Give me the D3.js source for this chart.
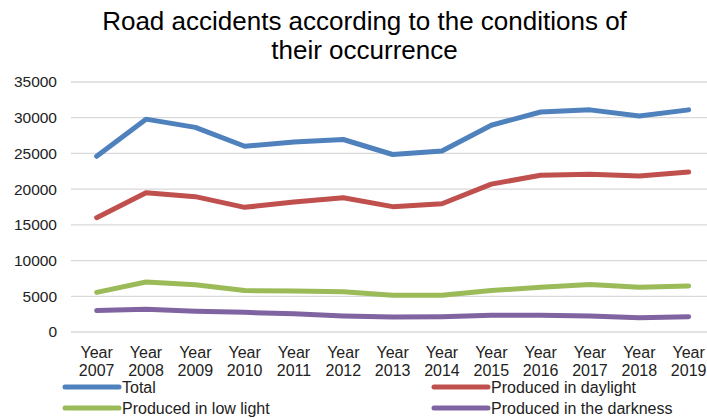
<!DOCTYPE html>
<html>
<head>
<meta charset="utf-8">
<script src="https://cdn.jsdelivr.net/npm/d3@7"></script>
<style>
  body { margin: 0; background: #fff; }
  text { font-family: "Liberation Sans", Arial, sans-serif; }
</style>
</head>
<body>
<script>
var years = ['2007', '2008', '2009', '2010', '2011', '2012', '2013', '2014', '2015', '2016', '2017', '2018', '2019'];
var total = [24600, 29800, 28650, 26000, 26600, 26950, 24850, 25350, 28950, 30800, 31100, 30250, 31100];
var daylight = [16000, 19500, 18950, 17450, 18200, 18800, 17550, 17950, 20700, 21950, 22100, 21850, 22400];
var lowLight = [5550, 7000, 6600, 5800, 5750, 5650, 5150, 5150, 5800, 6250, 6650, 6250, 6450];
var darkness = [3000, 3200, 2900, 2750, 2550, 2250, 2100, 2150, 2350, 2350, 2250, 2000, 2150];
var yTicks = [0, 5000, 10000, 15000, 20000, 25000, 30000, 35000];
var seriesNames = ['Total', 'Produced in daylight', 'Produced in low light', 'Produced in the darkness'];

var colors = ['#4F81BD', '#C0504D', '#9BBB59', '#8064A2'];
var width = 707, height = 418;

var svg = d3.select('body').append('svg')
    .attr('width', width)
    .attr('height', height);

svg.append('text')
    .attr('x', 364.5).attr('y', 30)
    .attr('text-anchor', 'middle')
    .attr('font-size', 26)
    .attr('fill', '#000')
    .text('Road accidents according to the conditions of');
svg.append('text')
    .attr('x', 364.5).attr('y', 59)
    .attr('text-anchor', 'middle')
    .attr('font-size', 26)
    .attr('fill', '#000')
    .text('their occurrence');

var x = d3.scaleBand()
    .domain(years)
    .range([72, 72 + 13 * 49.33]);

var y = d3.scaleLinear()
    .domain([0, 35000])
    .range([332, 82]);

// gridlines
svg.append('g')
    .selectAll('line')
    .data(yTicks)
    .enter()
        .append('line')
        .attr('x1', 71).attr('x2', width)
        .attr('y1', (d) => y(d)).attr('y2', (d) => y(d))
        .attr('stroke', '#d9d9d9')
        .attr('stroke-width', 1.3);

svg.append('g')
    .selectAll('text')
    .data(yTicks)
    .enter()
        .append('text')
        .attr('x', 57)
        .attr('y', (d) => y(d))
        .attr('dy', '0.35em')
        .attr('text-anchor', 'end')
        .attr('font-size', 15.5)
        .attr('fill', '#222')
        .text((d) => d);

var xLabels = svg.append('g')
    .selectAll('text')
    .data(years)
    .enter()
        .append('text')
        .attr('text-anchor', 'middle')
        .attr('font-size', 16)
        .attr('fill', '#222');
xLabels.append('tspan')
    .attr('x', (d) => x(d) + x.bandwidth() / 2)
    .attr('y', 357.5)
    .text('Year');
xLabels.append('tspan')
    .attr('x', (d) => x(d) + x.bandwidth() / 2)
    .attr('y', 375.5)
    .text((d) => d);

var allSeries = [total, daylight, lowLight, darkness];
var line = d3.line()
    .x((d, i) => x(years[i]) + x.bandwidth() / 2)
    .y((d) => y(d));

svg.append('g')
    .selectAll('path')
    .data(allSeries)
    .enter()
        .append('path')
        .attr('fill', 'none')
        .attr('stroke', (d, i) => colors[i])
        .attr('stroke-width', 5)
        .attr('stroke-linecap', 'round')
        .attr('stroke-linejoin', 'round')
        .attr('d', line);

// legend
var legendPos = [[65, 387], [434, 387], [65, 408], [434, 408]];
var legend = svg.append('g')
    .selectAll('g')
    .data(seriesNames)
    .enter()
        .append('g')
        .attr('transform', (d, i) => `translate(${legendPos[i][0]},${legendPos[i][1]})`);
legend.append('line')
    .attr('x1', 0).attr('x2', 54)
    .attr('stroke', (d, i) => colors[i])
    .attr('stroke-width', 5)
    .attr('stroke-linecap', 'round');
legend.append('text')
    .attr('x', 57)
    .attr('dy', '0.35em')
    .attr('font-size', 16)
    .attr('fill', '#222')
    .text((d) => d);
</script>
</body>
</html>
